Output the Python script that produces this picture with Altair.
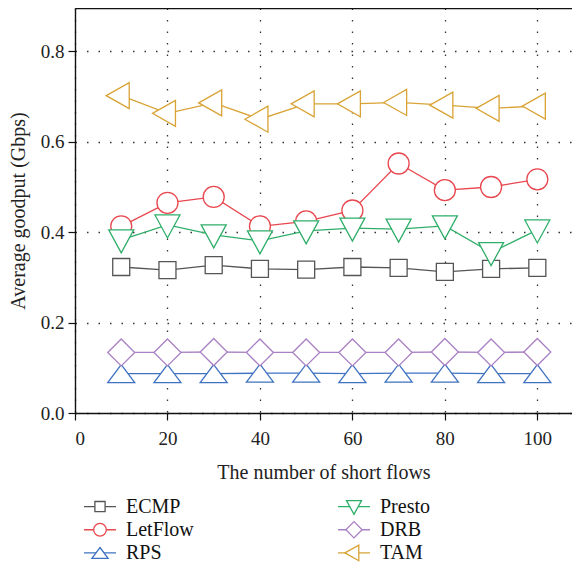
import altair as alt
import pandas as pd

# ---------------- data ----------------
flows = [10, 20, 30, 40, 50, 60, 70, 80, 90, 100]
ecmp = [0.323, 0.316, 0.327, 0.319, 0.317, 0.323, 0.321, 0.312, 0.319, 0.321]
letflow = [0.413, 0.465, 0.478, 0.413, 0.424, 0.448, 0.552, 0.493, 0.500, 0.517]
rps = [0.087, 0.087, 0.087, 0.088, 0.088, 0.087, 0.088, 0.088, 0.087, 0.087]
presto = [0.383, 0.416, 0.394, 0.381, 0.403, 0.409, 0.407, 0.414, 0.355, 0.405]
drb = [0.134, 0.134, 0.135, 0.134, 0.134, 0.134, 0.134, 0.135, 0.134, 0.135]
tam = [0.702, 0.663, 0.686, 0.650, 0.684, 0.684, 0.687, 0.681, 0.674, 0.679]

series_names = ["ECMP", "LetFlow", "RPS", "Presto", "DRB", "TAM"]
series_values = [ecmp, letflow, rps, presto, drb, tam]

x_ticks = [0, 20, 40, 60, 80, 100]
y_ticks = [0.0, 0.2, 0.4, 0.6, 0.8]

# ---------------- styles ----------------
colors = ["#555555", "#e8474f", "#3f72c0", "#2fae6a", "#a981c4", "#d9a335"]
shapes = [
    "M-8.5,-8.5L8.5,-8.5L8.5,8.5L-8.5,8.5Z",
    "M10.5,0A10.5,10.5,0,1,1,-10.5,0A10.5,10.5,0,1,1,10.5,0Z",
    "M0,-9L13.5,9L-13.5,9Z",
    "M-12.5,-10L12.5,-10L0,13Z",
    "M-13.5,0L0,-13.5L13.5,0L0,13.5Z",
    "M-15,0L8,-13L8,13Z",
]
FONT = "Liberation Serif"

rows = []
for name, vals in zip(series_names, series_values):
    for f, v in zip(flows, vals):
        rows.append({"series": name, "flows": f, "goodput": v})
df = pd.DataFrame(rows)

color_scale = alt.Scale(domain=series_names, range=colors)
shape_scale = alt.Scale(domain=series_names, range=shapes)
x_scale = alt.Scale(domain=[0, 107.5], nice=False)
y_scale = alt.Scale(domain=[0, 0.896], nice=False)

x_enc = alt.X(
    "flows:Q", scale=x_scale,
    axis=alt.Axis(
        values=x_ticks, title="The number of short flows", grid=True,
        tickSize=7, labelPadding=9, titlePadding=14,
        labelFont=FONT, titleFont=FONT, labelFontSize=19, titleFontSize=20,
    ),
)
x_top = alt.X(
    "flows:Q", scale=x_scale,
    axis=alt.Axis(orient="top", labels=False, ticks=False, grid=False, title=None, domain=True),
)
y_enc = alt.Y(
    "goodput:Q", scale=y_scale,
    axis=alt.Axis(
        values=y_ticks, format=".1f", title="Average goodput (Gbps)", grid=True,
        tickSize=7, labelPadding=4, titlePadding=12,
        labelFont=FONT, titleFont=FONT, labelFontSize=19, titleFontSize=20,
    ),
)

base = alt.Chart(df)
layers = []
for name in series_names:
    sub = base.transform_filter(alt.datum.series == name)
    line = sub.mark_line(strokeWidth=1.3).encode(
        x=x_enc, y=y_enc,
        stroke=alt.Stroke("series:N", scale=color_scale, legend=None),
    )
    pts = sub.mark_point(size=4, strokeWidth=1.3, fill="white", fillOpacity=1, opacity=1).encode(
        x=x_enc, y=y_enc,
        shape=alt.Shape("series:N", scale=shape_scale, legend=None),
        stroke=alt.Stroke("series:N", scale=color_scale, legend=None),
    )
    layers += [line, pts]

main = alt.layer(*layers)
frame_top = base.mark_line(opacity=0).encode(x=x_top, y=y_enc)
plot = alt.layer(main, frame_top).resolve_scale(x="independent").properties(width=497, height=405)

# ---------------- legend ----------------
leg_col = [0, 0, 0, 1, 1, 1]
leg_row = [0, 1, 2, 0, 1, 2]
leg_df = pd.DataFrame({"series": series_names, "col": leg_col, "row": leg_row})
lx = alt.X("col:Q", scale=alt.Scale(domain=[-0.0984, 1.8583], nice=False), axis=None)
ly = alt.Y("row:Q", scale=alt.Scale(domain=[-0.5, 2.35], reverse=True, nice=False), axis=None)
lbase = alt.Chart(leg_df)
leg_rule = lbase.mark_rule(strokeWidth=1.3, xOffset=-16, x2Offset=16).encode(
    x=lx, x2="col:Q", y=ly,
    stroke=alt.Stroke("series:N", scale=color_scale, legend=None),
)
leg_pts = lbase.mark_point(size=1.44, strokeWidth=1.3, fill="white", fillOpacity=1, opacity=1).encode(
    x=lx, y=ly,
    shape=alt.Shape("series:N", scale=shape_scale, legend=None),
    stroke=alt.Stroke("series:N", scale=color_scale, legend=None),
)
leg_txt = lbase.mark_text(align="left", baseline="middle", dx=26, font=FONT, fontSize=20, color="#111").encode(
    x=lx, y=ly, text="series:N",
)
legend = alt.layer(leg_rule, leg_pts, leg_txt).properties(width=497, height=66)

chart = alt.vconcat(plot, legend, spacing=13).properties(
    padding={"left": 0, "top": 0, "right": 0, "bottom": 0}
).configure_view(stroke=None).configure_axis(
    labelFont=FONT, titleFont=FONT, labelFontSize=19, titleFontSize=20,
    labelColor="#222", titleColor="#222", titleFontWeight="normal",
    domainColor="#111", domainWidth=1.4, tickColor="#111", tickWidth=1.2,
    gridColor="#333", gridDash=[1.5, 10], gridWidth=1.3, gridOpacity=1,
)

chart.save("out.html", embed_options={"renderer": "svg", "actions": False})
